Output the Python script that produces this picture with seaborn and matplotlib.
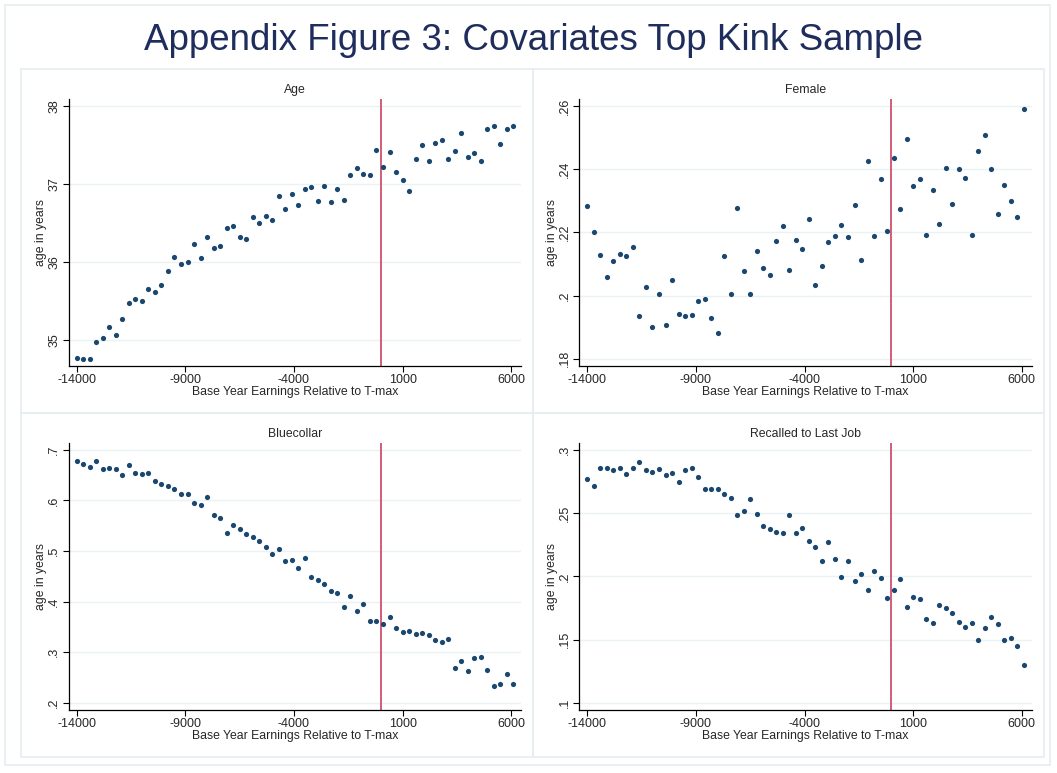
import numpy as np
import pandas as pd
import matplotlib
matplotlib.use("Agg")
import matplotlib.pyplot as plt
import seaborn as sns
from matplotlib.patches import Rectangle

# bins of base year earnings relative to T-max (step 300)
earnings = list(range(-14000, 6101, 300))

age = [34.77, 34.76, 34.76, 34.97, 35.03, 35.17, 35.06, 35.27, 35.47, 35.52,
       35.50, 35.65, 35.62, 35.70, 35.88, 36.07, 35.98, 36.00, 36.23, 36.05,
       36.32, 36.18, 36.20, 36.44, 36.46, 36.32, 36.29, 36.58, 36.50, 36.59,
       36.54, 36.85, 36.68, 36.87, 36.73, 36.93, 36.96, 36.78, 36.98, 36.77,
       36.94, 36.79, 37.11, 37.20, 37.13, 37.12, 37.44, 37.22, 37.41, 37.15,
       37.05, 36.91, 37.32, 37.50, 37.30, 37.53, 37.56, 37.32, 37.42, 37.65,
       37.35, 37.40, 37.29, 37.71, 37.74, 37.51, 37.70, 37.74]

female = [.2282, .2200, .2128, .2059, .2108, .2132, .2124, .2153, .1936, .2026,
          .1902, .2004, .1906, .2050, .1942, .1935, .1939, .1983, .1990, .1930,
          .1883, .2126, .2005, .2276, .2079, .2006, .2142, .2087, .2064, .2174,
          .2219, .2080, .2176, .2146, .2241, .2032, .2092, .2168, .2187, .2224,
          .2186, .2287, .2113, .2426, .2187, .2368, .2204, .2435, .2273, .2496,
          .2347, .2368, .2193, .2333, .2228, .2404, .2291, .2400, .2372, .2191,
          .2459, .2507, .2400, .2257, .2350, .2300, .2250, .2590]

bluecollar = [.6776, .6724, .6651, .6776, .6618, .6645, .6618, .6493, .6697, .6539,
              .6513, .6533, .6388, .6322, .6283, .6230, .6125, .6132, .5954, .5908,
              .6059, .5704, .5645, .5355, .5507, .5441, .5329, .5283, .5197, .5072,
              .4934, .5033, .4796, .4816, .4671, .4855, .4480, .4421, .4349, .4204,
              .4171, .3901, .4112, .3822, .3954, .3618, .3612, .3553, .3691, .3487,
              .3395, .3414, .3355, .3382, .3349, .3237, .3211, .3257, .2697, .2836,
              .2632, .2882, .2908, .2658, .2336, .2382, .2572, .2375]

recalled = [.2768, .2716, .2858, .2853, .2839, .2858, .2808, .2858, .2903, .2837,
            .2824, .2850, .2800, .2818, .2745, .2839, .2858, .2784, .2687, .2687,
            .2687, .2653, .2616, .2484, .2518, .2608, .2495, .2400, .2371, .2353,
            .2342, .2482, .2339, .2384, .2282, .2232, .2118, .2274, .2137, .1995,
            .2124, .1961, .2016, .1889, .2039, .1989, .1832, .1892, .1979, .1758,
            .1834, .1824, .1663, .1634, .1774, .1747, .1708, .1639, .1600, .1634,
            .1497, .1592, .1679, .1624, .1495, .1513, .1447, .1297]

x_ticks = [-14000, -9000, -4000, 1000, 6000]

panels = [
    ("Age", age, [35, 36, 37, 38], ["35", "36", "37", "38"], (34.67, 38.09)),
    ("Female", female, [.18, .20, .22, .24, .26], [".18", ".2", ".22", ".24", ".26"], (.1778, .2622)),
    ("Bluecollar", bluecollar, [.2, .3, .4, .5, .6, .7], [".2", ".3", ".4", ".5", ".6", ".7"], (.1862, .7138)),
    ("Recalled to Last Job", recalled, [.1, .15, .2, .25, .3], [".1", ".15", ".2", ".25", ".3"], (.0945, .3055)),
]

sns.set_style("white")
plt.rcParams['font.family'] = ['Liberation Sans', 'DejaVu Sans']

W, H = 1057, 773
fig = plt.figure(figsize=(W / 100, H / 100), dpi=100)

# outer frame and panel frames (pixel coords -> figure fractions)
def frame(x0, y0, x1, y1):
    fig.add_artist(Rectangle((x0 / W, 1 - y1 / H), (x1 - x0) / W, (y1 - y0) / H,
                             transform=fig.transFigure, fill=False,
                             edgecolor='#e6eef0', lw=1.2))

frame(5, 5, 1050, 765)
frame(21, 69, 533, 413)
frame(533, 69, 1044, 413)
frame(21, 413, 533, 757)
frame(533, 413, 1044, 757)

fig.text(534 / W, 1 - 40 / H, "Appendix Figure 3: Covariates Top Kink Sample",
         ha='center', va='center', fontsize=26.5, color='#1f2d5c')

lefts = [68.7, 579.3]
tops = [99, 442.7]
bottoms = [365.7, 710]
width = 452.5

for i, (name, vals, yt, ytl, ylim) in enumerate(panels):
    r, c = divmod(i, 2)
    ax = fig.add_axes([lefts[c] / W, 1 - bottoms[r] / H, width / W, (bottoms[r] - tops[r]) / H])
    df = pd.DataFrame({"earn": earnings, "val": vals})
    for y in yt:
        ax.axhline(y, color='#eaf2f3', lw=1.0, zorder=0)
    ax.axvline(0, color='#d0506e', lw=1.3, zorder=1)
    sns.scatterplot(data=df, x="earn", y="val", ax=ax, color='#1a476f',
                    s=14, linewidth=0, zorder=3)
    ax.set_xlim(-14369, 6461)
    ax.set_ylim(*ylim)
    ax.set_xticks(x_ticks)
    ax.set_xticklabels([str(t) for t in x_ticks])
    ax.set_yticks(yt)
    ax.set_yticklabels(ytl, rotation=90, va='center')
    ax.tick_params(axis='both', direction='out', length=4, width=0.8,
                   labelsize=9, pad=2, color='black', left=True, bottom=True)
    ax.set_title(name, fontsize=8.8, pad=4)
    ax.set_xlabel("Base Year Earnings Relative to T-max", fontsize=8.8, labelpad=0)
    ax.set_ylabel("age in years", fontsize=8.8, labelpad=1)
    for s in ['top', 'right']:
        ax.spines[s].set_visible(False)
    for s in ['left', 'bottom']:
        ax.spines[s].set_color('black')
        ax.spines[s].set_linewidth(0.9)
    ax.set_facecolor('white')

fig.savefig("out.png", dpi=100)
